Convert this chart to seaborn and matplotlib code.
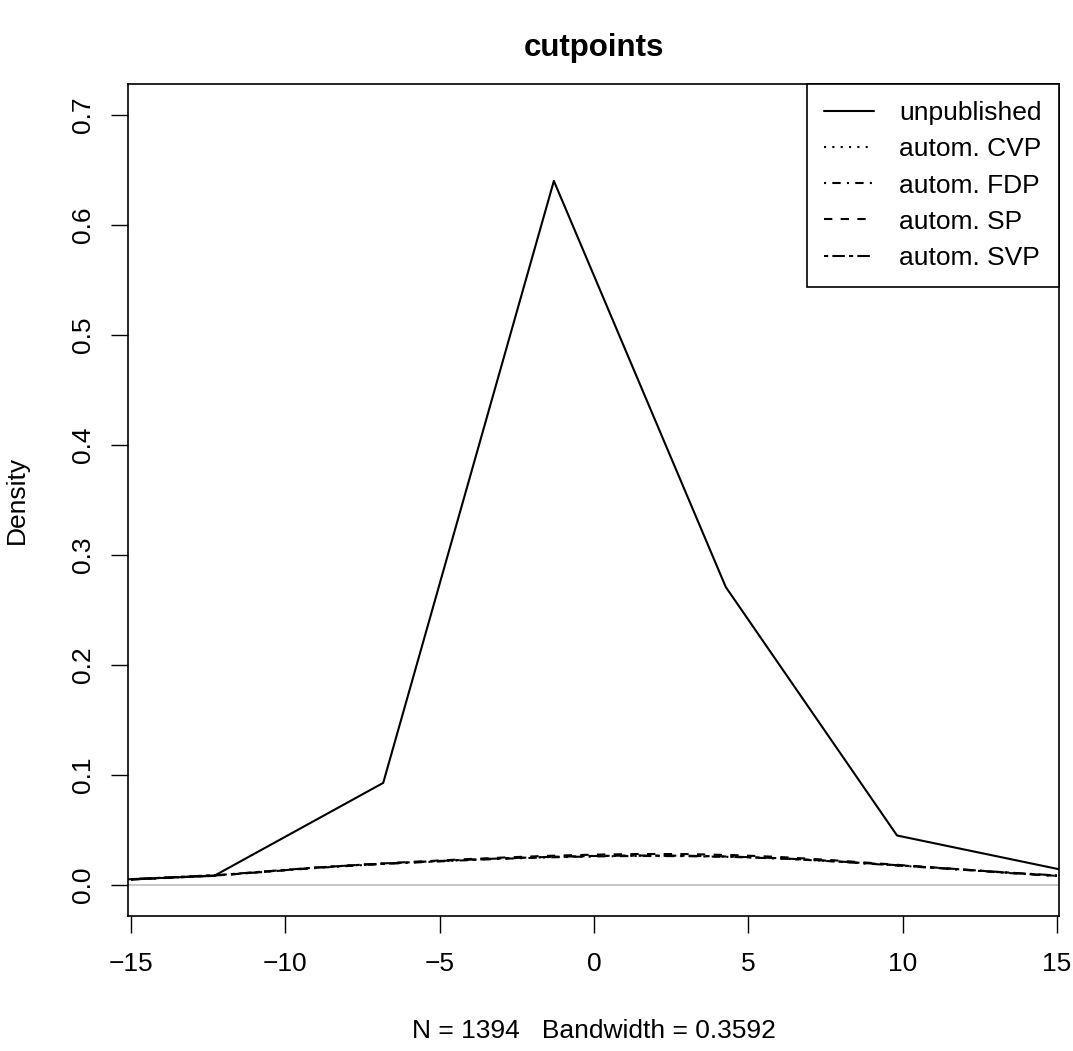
import numpy as np
import pandas as pd
import matplotlib
matplotlib.use("Agg")
import matplotlib.pyplot as plt
import seaborn as sns

# Coarse density of the unpublished cutpoints (polyline vertices)
unpub_x = [-17.84, -12.31, -6.83, -1.30, 4.27, 9.82, 15.35]
unpub_y = [0.0024, 0.0085, 0.093, 0.640, 0.271, 0.0452, 0.0129]

# Smooth densities of the automatic procedures
grid_x = [-15, -13.5, -12, -10.5, -9, -7.5, -6, -4.5, -3, -1.5, 0,
          1.5, 3, 4.5, 6, 7.5, 9, 10.5, 12, 13.5, 15]
cvp_y = [0.0054, 0.0074, 0.0095, 0.0128, 0.0160, 0.0186, 0.0207, 0.0226,
         0.0243, 0.0256, 0.0265, 0.0269, 0.0267, 0.0259, 0.0244, 0.0222,
         0.0195, 0.0168, 0.0140, 0.0112, 0.0086]
fdp_y = [0.0052, 0.0072, 0.0093, 0.0125, 0.0157, 0.0183, 0.0204, 0.0223,
         0.0240, 0.0253, 0.0262, 0.0266, 0.0264, 0.0257, 0.0243, 0.0221,
         0.0194, 0.0167, 0.0139, 0.0110, 0.0084]
sp_y = [0.0050, 0.0071, 0.0093, 0.0126, 0.0160, 0.0188, 0.0211, 0.0232,
        0.0251, 0.0267, 0.0278, 0.0284, 0.0283, 0.0274, 0.0257, 0.0232,
        0.0202, 0.0172, 0.0142, 0.0112, 0.0085]
svp_y = [0.0055, 0.0075, 0.0096, 0.0129, 0.0161, 0.0187, 0.0208, 0.0227,
         0.0244, 0.0257, 0.0266, 0.0270, 0.0268, 0.0260, 0.0246, 0.0224,
         0.0197, 0.0170, 0.0142, 0.0114, 0.0089]

labels = ["unpublished", "autom. CVP", "autom. FDP", "autom. SP", "autom. SVP"]
x_ticks = [-15, -10, -5, 0, 5, 10, 15]
y_ticks = [0.0, 0.1, 0.2, 0.3, 0.4, 0.5, 0.6, 0.7]

sns.set_style("white")
plt.rcParams["font.family"] = ["Liberation Sans", "DejaVu Sans"]
plt.rcParams["text.color"] = "black"
plt.rcParams["axes.labelcolor"] = "black"

FS = 19

fig = plt.figure(figsize=(10.73, 10.51), dpi=100)
ax = fig.add_axes([0.1193, 0.1284, 0.8677, 0.7916])

# zero baseline
ax.axhline(0, color="#bebebe", lw=1.2, zorder=1)

styles = [
    "-",
    (0, (1, 3)),
    (0, (1, 3, 4, 3)),
    (0, (4, 4)),
    (0, (2, 2, 6, 2)),
]
series = [
    (unpub_x, unpub_y),
    (grid_x, cvp_y),
    (grid_x, fdp_y),
    (grid_x, sp_y),
    (grid_x, svp_y),
]
for (xs, ys), ls, lab in zip(series, styles, labels):
    df = pd.DataFrame({"x": xs, "y": ys})
    sns.lineplot(data=df, x="x", y="y", ax=ax, color="black", lw=1.5,
                 linestyle=ls, label=lab, sort=False, estimator=None)

ax.set_xlim(-15.1, 15.07)
ax.set_ylim(-0.028, 0.728)
ax.set_xticks(x_ticks)
ax.set_xticklabels(["\u221215", "\u221210", "\u22125", "0", "5", "10", "15"])
ax.set_yticks(y_ticks)
ax.set_yticklabels([f"{v:.1f}" for v in y_ticks], rotation=90, va="center")
ax.tick_params(axis="both", direction="out", length=12, width=1.0,
               labelsize=FS, colors="black", bottom=True, left=True)
ax.tick_params(axis="x", pad=14)
ax.tick_params(axis="y", pad=12)
for s in ax.spines.values():
    s.set_color("black")
    s.set_linewidth(1.2)

ax.set_title("cutpoints", fontsize=22.5, fontweight="bold", pad=20)
ax.set_xlabel("N = 1394   Bandwidth = 0.3592", fontsize=FS)
ax.set_ylabel("Density", fontsize=FS)
ax.xaxis.set_label_coords(0.5, -0.124)
ax.yaxis.set_label_coords(-0.106, 0.5)

leg = ax.legend(loc="upper right", borderaxespad=0, fontsize=FS,
                fancybox=False, framealpha=1, edgecolor="black",
                handlelength=1.9, handletextpad=0.95, labelspacing=0.46,
                borderpad=0.65)
leg.get_frame().set_linewidth(1.2)

fig.savefig("out.png", dpi=100, facecolor="white")
